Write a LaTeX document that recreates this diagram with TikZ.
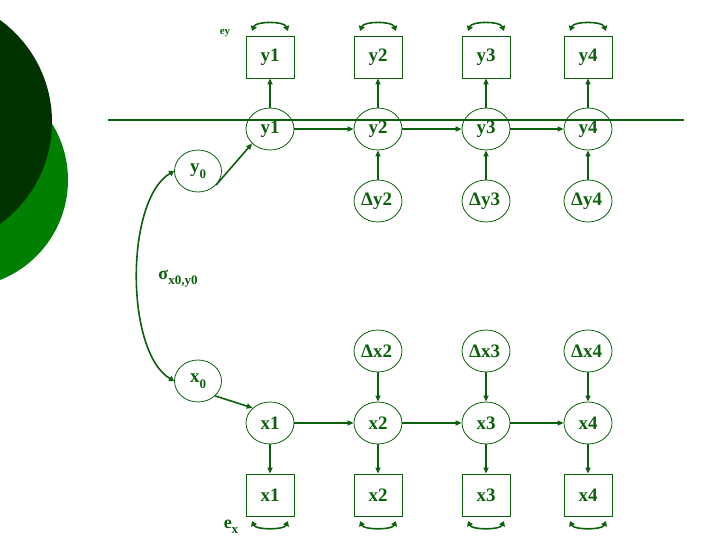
\documentclass[tikz,border=0pt]{standalone}
\usepackage{fontspec}
\setmainfont{Liberation Serif}
\usetikzlibrary{shapes.geometric,arrows.meta}
\definecolor{dkgreen}{RGB}{0,51,0}
\definecolor{brgreen}{RGB}{0,128,0}
\definecolor{ln}{RGB}{12,95,12}
\newcommand\sbs[1]{\raisebox{-0.3em}{\fontsize{13}{13}\selectfont #1}}
\begin{document}
\begin{tikzpicture}[x=1pt,y=-1pt,
  lat/.style={ellipse,draw=ln,line width=0.8pt,minimum width=48pt,minimum height=42pt,inner sep=0pt,text=ln,font=\fontsize{19}{22}\selectfont\bfseries},
  obs/.style={rectangle,draw=ln,line width=0.8pt,minimum width=48pt,minimum height=42pt,inner sep=0pt,text=ln,font=\fontsize{19}{22}\selectfont\bfseries},
  arr/.style={draw=ln,line width=1.6pt,-{Triangle[length=6pt,width=5pt]}},
  err/.style={draw=ln,line width=1.6pt,{Triangle[length=5pt,width=6pt]}-{Triangle[length=5pt,width=6pt]}},
  lab/.style={text=ln,inner sep=0pt,font=\fontsize{18}{20}\selectfont\bfseries}]
\useasboundingbox (0,0) rectangle (720,540);
\begin{scope}
  \clip (0,0) rectangle (720,540);
  \fill[brgreen] (-39.5,180) circle (107.5);
  \fill[dkgreen] (-74,122) circle (126);
\end{scope}
% y side
\foreach \i/\x in {1/270,2/378,3/486,4/588}{
  \node[obs] (oy\i) at (\x,57) {y\i};
  \node[lat] (ly\i) at (\x,129) {y\i};
  \node[obs] (ox\i) at (\x,495) {x\i};
  \node[lat] (lx\i) at (\x,423) {x\i};
  \draw[arr] (ly\i) -- (oy\i);
  \draw[arr] (lx\i) -- (ox\i);
  \coordinate (ta\i) at (\x-18,31);
  \coordinate (tb\i) at (\x+18,31);
  \draw[err] (ta\i) .. controls (\x-14,21) and (\x+14,21) .. (tb\i);
  \coordinate (ba\i) at (\x-18,521);
  \coordinate (bb\i) at (\x+18,521);
  \draw[err] (ba\i) .. controls (\x-14,530) and (\x+14,530) .. (bb\i);
}
\foreach \i/\x in {2/378,3/486,4/588}{
  \node[lat] (dy\i) at (\x,201) {$\!$\char"0394 y\i};
  \node[lat] (dx\i) at (\x,351) {$\!$\char"0394 x\i};
  \draw[arr] (dy\i) -- (ly\i);
  \draw[arr] (dx\i) -- (lx\i);
}
\foreach \a/\b in {1/2,2/3,3/4}{
  \draw[arr] (ly\a) -- (ly\b);
  \draw[arr] (lx\a) -- (lx\b);
}
\coordinate (hl) at (108,120);
\coordinate (hr) at (684,120);
\draw[ln,line width=2pt] (hl) -- (hr);
\node[lat,minimum width=47pt] (y0) at (198,171) {y\sbs{0}};
\node[lat,minimum width=47pt] (x0) at (198,381) {x\sbs{0}};
\draw[arr] (y0.-38) -- (ly1.219);
\draw[arr] (x0.-41) -- (lx1.139);
\draw[err] (y0.west) .. controls (125,200) and (125,352) .. (x0.west);
\node[lab,font=\fontsize{11}{12}\selectfont\bfseries] (ey) at (225,33) {ey};
\node[lab] (ex) at (231,527) {e\sbs{x}};
\node[lab] (sig) at (178,279) {σ\sbs{x0,y0}};
\end{tikzpicture}
\end{document}
